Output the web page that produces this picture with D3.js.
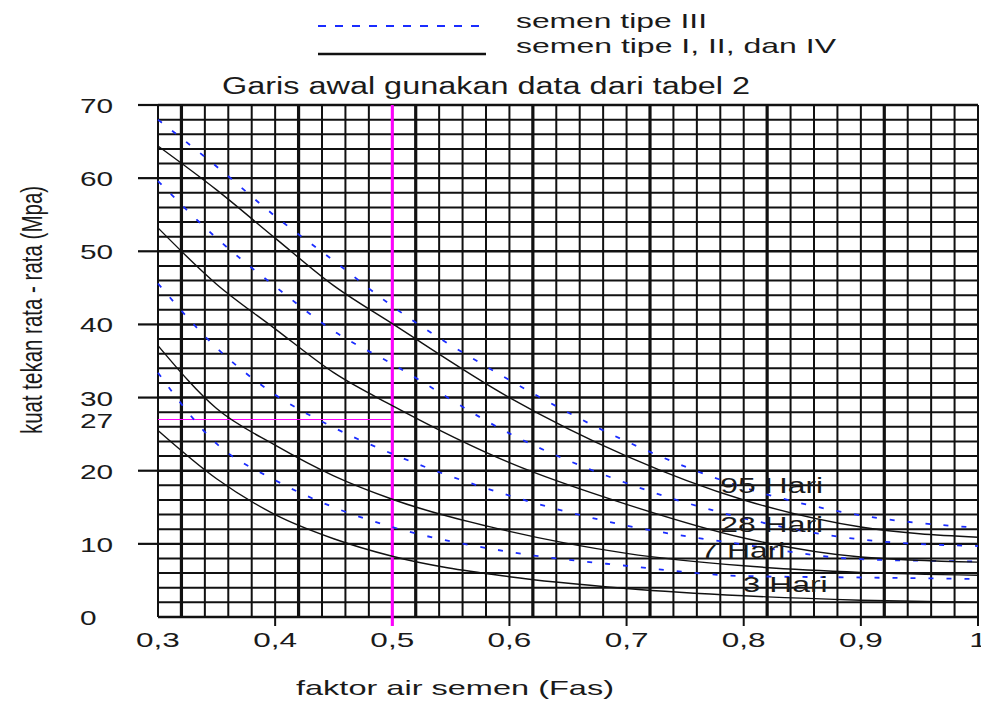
<!DOCTYPE html>
<html>
<head>
<meta charset="utf-8">
<script src="https://cdn.jsdelivr.net/npm/d3@7"></script>
<style>
  body { margin: 0; background: #fff; }
  text { font-family: 'Liberation Sans', Arial, sans-serif; fill: #1a1a1a; }
</style>
</head>
<body>
<div id="chart"></div>
<script>
// faktor air semen (x) and kuat tekan (Mpa)
var fas = [0.3, 0.35, 0.4, 0.45, 0.5, 0.6, 0.7, 0.8, 0.9, 1.0]

// semen tipe I, II, dan IV (solid)
var tipe1_95 = [64.4, 58.4, 51.8, 45.3, 40.1, 30.0, 22.0, 16.0, 12.3, 10.9]
var tipe1_28 = [53.2, 45.5, 39.4, 33.4, 28.9, 21.1, 15.4, 10.8, 8.2, 7.5]
var tipe1_7 = [37.1, 28.5, 23.5, 19.3, 16.1, 11.7, 8.7, 7.0, 6.1, 5.7]
var tipe1_3 = [25.5, 18.9, 14.0, 10.7, 8.3, 5.5, 3.9, 2.9, 2.3, 2.0]

// semen tipe III (dashed)
var tipe3_95 = [68.0, 61.6, 54.8, 48.7, 42.5, 32.4, 24.0, 17.7, 13.9, 12.2]
var tipe3_28 = [59.6, 51.8, 45.2, 39.1, 34.6, 25.1, 18.3, 13.5, 10.6, 9.7]
var tipe3_7 = [45.6, 36.8, 30.4, 25.9, 22.3, 16.6, 12.5, 9.9, 7.9, 7.6]
var tipe3_3 = [33.4, 23.7, 18.7, 15.0, 12.3, 8.9, 7.0, 5.6, 5.4, 5.2]

var curveLabels = ['95 Hari', '28 Hari', '7 Hari', '3 Hari']
var labelFas = [0.78, 0.78, 0.763, 0.799]
var labelMpa = [16.9, 11.6, 8.05, 3.4]

var xTicks = [0.3, 0.4, 0.5, 0.6, 0.7, 0.8, 0.9, 1.0]
var yTicks = [0, 10, 20, 27, 30, 40, 50, 60, 70]
var fasTarget = 0.5
var mpaTarget = 27

var width = 981
var height = 703

var x = d3.scaleLinear().domain([0.3, 1.0]).range([158, 978])
var y = d3.scaleLinear().domain([0, 70]).range([617, 105])

var locale = d3.formatLocale({ decimal: ',', thousands: '.', grouping: [3], currency: ['', ''] })
var fmt = locale.format('~g')

// widen text like the scanned graph
var stretch = (sel, k) => {
  sel.each(function () {
    var w = this.getComputedTextLength()
    d3.select(this).attr('textLength', w * k).attr('lengthAdjust', 'spacingAndGlyphs')
  })
}

var svg = d3.select('#chart').append('svg').attr('width', width).attr('height', height)

// grid
var vLines = d3.range(0, 36).map(i => 0.3 + i * 0.02)
var hLines = d3.range(0, 36).map(i => i * 2)

svg.append('g').selectAll('line')
  .data(hLines)
  .enter()
  .append('line')
  .attr('x1', x(0.3)).attr('x2', x(1.0))
  .attr('y1', d => y(d)).attr('y2', d => y(d))
  .attr('stroke', '#111')
  .attr('stroke-width', d => d % 10 === 0 ? 2.4 : 2)

svg.append('g').selectAll('line')
  .data(vLines)
  .enter()
  .append('line')
  .attr('x1', d => x(d)).attr('x2', d => x(d))
  .attr('y1', y(0)).attr('y2', y(70))
  .attr('stroke', '#111')
  .attr('stroke-width', (d, i) => i % 5 === 1 ? 3.2 : 2)

// tick extensions
svg.append('g').selectAll('line')
  .data(yTicks.filter(d => d > 0 && d % 10 === 0))
  .enter()
  .append('line')
  .attr('x1', 138).attr('x2', x(0.3))
  .attr('y1', d => y(d)).attr('y2', d => y(d))
  .attr('stroke', '#111').attr('stroke-width', 2.2)

svg.append('g').selectAll('line')
  .data(xTicks.filter(d => d > 0.3))
  .enter()
  .append('line')
  .attr('x1', d => x(d)).attr('x2', d => x(d))
  .attr('y1', y(0)).attr('y2', y(0) + 9)
  .attr('stroke', '#111').attr('stroke-width', 2)

// target lines
svg.append('line')
  .attr('x1', x(0.3)).attr('x2', x(fasTarget))
  .attr('y1', y(mpaTarget)).attr('y2', y(mpaTarget))
  .attr('stroke', '#ff00ff').attr('stroke-width', 1.2)

svg.append('line')
  .attr('x1', x(fasTarget)).attr('x2', x(fasTarget))
  .attr('y1', y(70)).attr('y2', y(0) + 9)
  .attr('stroke', '#ff00ff').attr('stroke-width', 3)

// curves
var line = d3.line()
  .x((d, i) => x(fas[i]))
  .y(d => y(d))
  .curve(d3.curveMonotoneX)

var solid = [tipe1_95, tipe1_28, tipe1_7, tipe1_3]
var dashed = [tipe3_95, tipe3_28, tipe3_7, tipe3_3]

svg.append('g').selectAll('path')
  .data(dashed)
  .enter()
  .append('path')
  .attr('d', line)
  .attr('fill', 'none')
  .attr('stroke', '#1a2cff')
  .attr('stroke-width', 1.8)
  .attr('stroke-dasharray', '5,13')

svg.append('g').selectAll('path')
  .data(solid)
  .enter()
  .append('path')
  .attr('d', line)
  .attr('fill', 'none')
  .attr('stroke', '#111')
  .attr('stroke-width', 1.4)

// curve labels
svg.append('g').selectAll('text')
  .data(curveLabels)
  .enter()
  .append('text')
  .attr('x', (d, i) => x(labelFas[i]))
  .attr('y', (d, i) => y(labelMpa[i]))
  .attr('font-size', 22)
  .text(d => d)
  .call(stretch, 1.45)

// y tick labels
svg.append('g').selectAll('text')
  .data(yTicks)
  .enter()
  .append('text')
  .attr('x', 80)
  .attr('y', d => y(d) + 8)
  .attr('font-size', 21)
  .text(d => d)
  .call(stretch, 1.42)

// x tick labels
svg.append('g').selectAll('text')
  .data(xTicks)
  .enter()
  .append('text')
  .attr('x', d => x(d))
  .attr('y', 647)
  .attr('text-anchor', 'middle')
  .attr('font-size', 21)
  .text(d => fmt(d))
  .call(stretch, 1.5)

// axis titles
svg.append('text')
  .attr('x', 296).attr('y', 695)
  .attr('font-size', 21)
  .text('faktor air semen (Fas)')
  .attr('textLength', 318).attr('lengthAdjust', 'spacingAndGlyphs')

svg.append('text')
  .attr('transform', 'translate(42, 310) scale(1.45, 1) rotate(-90)')
  .attr('text-anchor', 'middle')
  .attr('font-size', 20.5)
  .text('kuat tekan rata - rata (Mpa)')

// title
svg.append('text')
  .attr('x', 222).attr('y', 94)
  .attr('font-size', 23)
  .text('Garis awal gunakan data dari tabel 2')
  .attr('textLength', 528).attr('lengthAdjust', 'spacingAndGlyphs')

// legend
svg.append('line')
  .attr('x1', 318).attr('x2', 486).attr('y1', 26).attr('y2', 26)
  .attr('stroke', '#1a2cff').attr('stroke-width', 2).attr('stroke-dasharray', '8,9')
svg.append('line')
  .attr('x1', 318).attr('x2', 486).attr('y1', 54).attr('y2', 54)
  .attr('stroke', '#111').attr('stroke-width', 2.6)

svg.append('text')
  .attr('x', 516).attr('y', 28).attr('font-size', 21)
  .text('semen tipe III')
  .attr('textLength', 191).attr('lengthAdjust', 'spacingAndGlyphs')
svg.append('text')
  .attr('x', 516).attr('y', 53).attr('font-size', 21)
  .text('semen tipe I, II, dan IV')
  .attr('textLength', 320).attr('lengthAdjust', 'spacingAndGlyphs')
</script>
</body>
</html>
